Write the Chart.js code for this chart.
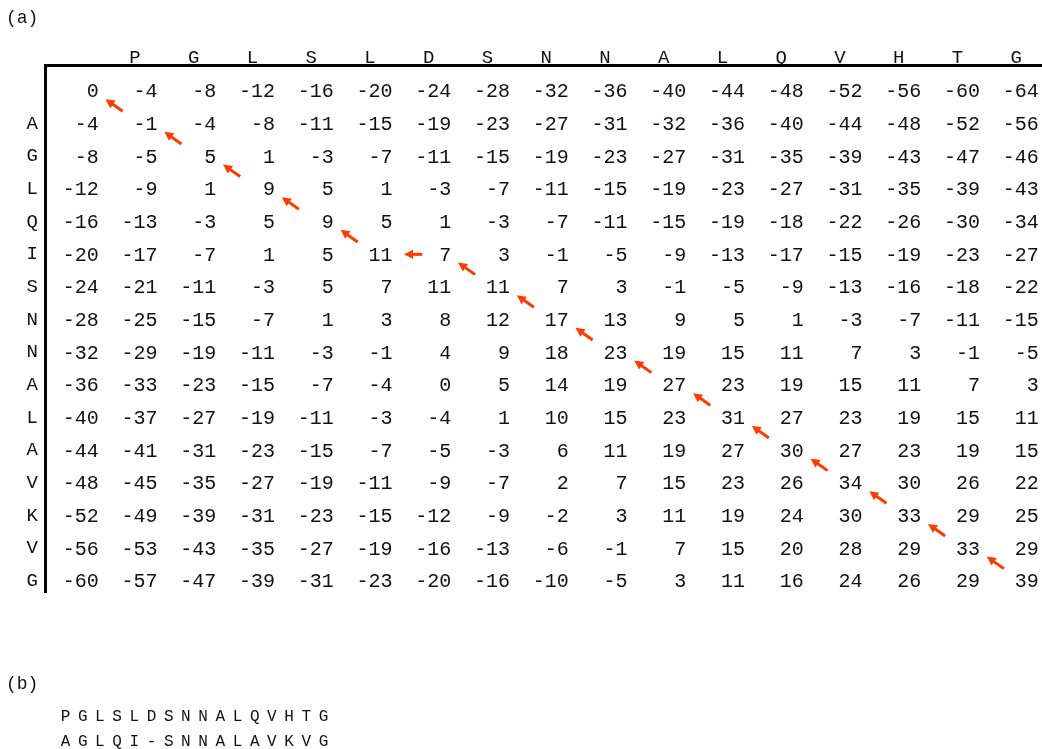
<!DOCTYPE html>
<html><head><meta charset="utf-8">
<script src="https://cdn.jsdelivr.net/npm/chart.js@4/dist/chart.umd.min.js"></script>
<style>html,body{margin:0;padding:0;background:#fff;}#wrap{position:relative;width:1042px;height:749px;}</style>
</head><body><div id="wrap"><canvas id="c"></canvas></div>
<script>
// ---- data ----
const colLabels = ['', 'P','G','L','S','L','D','S','N','N','A','L','Q','V','H','T','G'];
const rowLabels = ['', 'A','G','L','Q','I','S','N','N','A','L','A','V','K','V','G'];
const row00 = [0,-4,-8,-12,-16,-20,-24,-28,-32,-36,-40,-44,-48,-52,-56,-60,-64];
const row01 = [-4,-1,-4,-8,-11,-15,-19,-23,-27,-31,-32,-36,-40,-44,-48,-52,-56];
const row02 = [-8,-5,5,1,-3,-7,-11,-15,-19,-23,-27,-31,-35,-39,-43,-47,-46];
const row03 = [-12,-9,1,9,5,1,-3,-7,-11,-15,-19,-23,-27,-31,-35,-39,-43];
const row04 = [-16,-13,-3,5,9,5,1,-3,-7,-11,-15,-19,-18,-22,-26,-30,-34];
const row05 = [-20,-17,-7,1,5,11,7,3,-1,-5,-9,-13,-17,-15,-19,-23,-27];
const row06 = [-24,-21,-11,-3,5,7,11,11,7,3,-1,-5,-9,-13,-16,-18,-22];
const row07 = [-28,-25,-15,-7,1,3,8,12,17,13,9,5,1,-3,-7,-11,-15];
const row08 = [-32,-29,-19,-11,-3,-1,4,9,18,23,19,15,11,7,3,-1,-5];
const row09 = [-36,-33,-23,-15,-7,-4,0,5,14,19,27,23,19,15,11,7,3];
const row10 = [-40,-37,-27,-19,-11,-3,-4,1,10,15,23,31,27,23,19,15,11];
const row11 = [-44,-41,-31,-23,-15,-7,-5,-3,6,11,19,27,30,27,23,19,15];
const row12 = [-48,-45,-35,-27,-19,-11,-9,-7,2,7,15,23,26,34,30,26,22];
const row13 = [-52,-49,-39,-31,-23,-15,-12,-9,-2,3,11,19,24,30,33,29,25];
const row14 = [-56,-53,-43,-35,-27,-19,-16,-13,-6,-1,7,15,20,28,29,33,29];
const row15 = [-60,-57,-47,-39,-31,-23,-20,-16,-10,-5,3,11,16,24,26,29,39];
const scoreRows = [row00,row01,row02,row03,row04,row05,row06,row07,row08,row09,row10,row11,row12,row13,row14,row15];
// traceback path (row index, column index)
const pathRows = [0,1,2,3,4,5,5,6,7,8,9,10,11,12,13,14,15];
const pathCols = [0,1,2,3,4,5,6,7,8,9,10,11,12,13,14,15,16];
const alignTop = 'PGLSLDSNNALQVHTG';
const alignBottom = 'AGLQI-SNNALAVKVG';
const panelLabels = ['(a)', '(b)'];

// ---- chart ----
const points = [];
scoreRows.forEach((row, r) => row.forEach((v, c) => points.push({x: c, y: r, v: v})));

const MONO = '"Liberation Mono", "DejaVu Sans Mono", monospace';
const ARROW = '#ff3c00';

function drawArrow(ctx, x0, y0, x1, y1) {
  const ang = Math.atan2(y1 - y0, x1 - x0);
  const L = 9, W = 4.6;
  const bx = x1 - Math.cos(ang) * L, by = y1 - Math.sin(ang) * L;
  ctx.beginPath();
  ctx.moveTo(x0, y0); ctx.lineTo(bx + Math.cos(ang) * 1, by + Math.sin(ang) * 1);
  ctx.stroke();
  ctx.beginPath();
  ctx.moveTo(x1, y1);
  ctx.lineTo(bx - Math.sin(ang) * W, by + Math.cos(ang) * W);
  ctx.lineTo(bx + Math.sin(ang) * W, by - Math.cos(ang) * W);
  ctx.closePath();
  ctx.fill();
}

const matrixPlugin = {
  id: 'matrix',
  afterDatasetsDraw(chart) {
    const ctx = chart.ctx;
    const xs = chart.scales.x, ys = chart.scales.y;
    const meta = chart.getDatasetMeta(0);
    const raw = chart.data.datasets[0].data;
    const numOff = 0.383;
    ctx.save();
    ctx.font = '20px ' + MONO;
    ctx.fillStyle = '#111';
    ctx.textAlign = 'right';
    ctx.textBaseline = 'middle';
    meta.data.forEach((el, i) => {
      const p = raw[i];
      ctx.fillText(String(p.v), xs.getPixelForValue(p.x + numOff), el.y + 1);
    });
    ctx.strokeStyle = ARROW; ctx.fillStyle = ARROW; ctx.lineWidth = 3; ctx.lineCap = 'butt';
    for (let k = 1; k < pathRows.length; k++) {
      const r1 = pathRows[k-1], c1 = pathCols[k-1], r2 = pathRows[k];
      let tip, tail;
      if (r1 === r2) { tip = [c1 + 0.58, r1]; tail = [c1 + 0.89, r1]; }
      else { tip = [c1 + 0.50, r1 + 0.25]; tail = [c1 + 0.79, r1 + 0.62]; }
      drawArrow(ctx, xs.getPixelForValue(tail[0]), ys.getPixelForValue(tail[1]),
                     xs.getPixelForValue(tip[0]), ys.getPixelForValue(tip[1]));
    }
    ctx.restore();
  },
  afterDraw(chart) {
    const ctx = chart.ctx;
    ctx.save();
    ctx.fillStyle = '#111';
    ctx.textBaseline = 'middle';
    ctx.textAlign = 'left';
    ctx.font = '18px ' + MONO;
    ctx.fillText(panelLabels[0], 6, 18);
    ctx.fillText(panelLabels[1], 6, 684);
    ctx.font = '16px ' + MONO;
    ctx.textAlign = 'center';
    [alignTop, alignBottom].forEach((s, li) => {
      for (let i = 0; i < s.length; i++) {
        ctx.fillText(s[i], 65.5 + 17.2 * i, 717 + li * 25);
      }
    });
    ctx.restore();
  }
};

new Chart(document.getElementById('c'), {
  type: 'scatter',
  data: { datasets: [{ data: points, pointRadius: 0, pointHoverRadius: 0, showLine: false }] },
  options: {
    responsive: true, maintainAspectRatio: false, animation: false,
    layout: { padding: { left: 0, top: 0, right: 0, bottom: 157 } },
    plugins: { legend: { display: false }, tooltip: { enabled: false } },
    events: [],
    scales: {
      x: {
        type: 'linear', position: 'top', min: -0.5311, max: 16.439, bounds: 'data',
        afterFit: s => { s.height = 65; },
        afterBuildTicks: s => { s.ticks = colLabels.map((_, i) => ({ value: i })); },
        grid: { display: false, drawTicks: false },
        border: { display: true, width: 3, color: '#000' },
        ticks: { autoSkip: false, maxRotation: 0, padding: -2, color: '#111',
                 font: { family: MONO, size: 19, lineHeight: 1 },
                 callback: (v, i) => colLabels[i] }
      },
      y: {
        type: 'linear', reverse: true, min: -0.7958, max: 15.335, bounds: 'data',
        afterFit: s => { s.width = 45; },
        afterBuildTicks: s => { s.ticks = rowLabels.map((_, i) => ({ value: i })); },
        grid: { display: false, drawTicks: false },
        border: { display: true, width: 3, color: '#000' },
        ticks: { autoSkip: false, padding: 7, color: '#111',
                 font: { family: MONO, size: 19, lineHeight: 1 },
                 callback: (v, i) => rowLabels[i] }
      }
    }
  },
  plugins: [matrixPlugin]
});
</script></body></html>
